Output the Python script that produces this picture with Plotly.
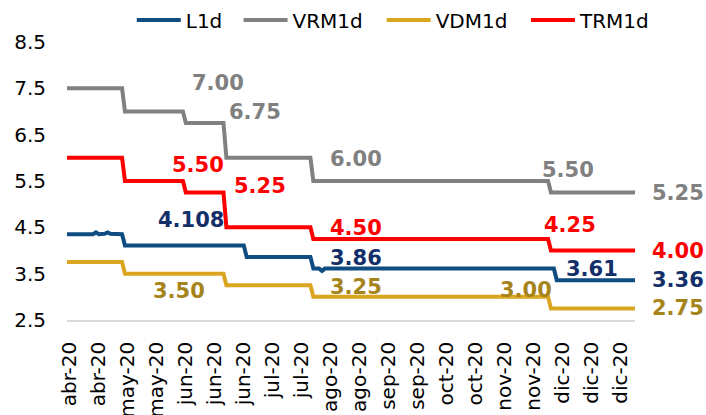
import plotly.graph_objects as go

# ---- data (x = business-day index from start of April 2020) ----
tick_pos = [1, 11, 21, 31, 41, 51, 61, 71, 81, 91, 101, 111, 121, 131, 141, 151, 161, 171, 181, 191]
tick_labels = ["abr-20", "abr-20", "may-20", "may-20", "jun-20", "jun-20", "jun-20",
               "jul-20", "jul-20", "ago-20", "ago-20", "sep-20", "sep-20", "oct-20",
               "oct-20", "nov-20", "nov-20", "dic-20", "dic-20", "dic-20"]

l1d_x = [0, 9, 10, 11, 13, 14, 15, 16, 19, 20, 61, 62, 84, 85, 87, 88, 89, 168, 169, 196]
l1d_y = [4.35, 4.35, 4.39, 4.35, 4.36, 4.39, 4.36, 4.36, 4.35, 4.108, 4.108, 3.86, 3.86,
         3.61, 3.61, 3.56, 3.61, 3.61, 3.36, 3.36]

vrm_x = [0, 19, 20, 40, 41, 54, 55, 84, 85, 166, 167, 196]
vrm_y = [7.5, 7.5, 7.0, 7.0, 6.75, 6.75, 6.0, 6.0, 5.5, 5.5, 5.25, 5.25]

vdm_x = [0, 19, 20, 54, 55, 84, 85, 166, 167, 196]
vdm_y = [3.75, 3.75, 3.5, 3.5, 3.25, 3.25, 3.0, 3.0, 2.75, 2.75]

trm_x = [0, 19, 20, 40, 41, 54, 55, 84, 85, 166, 167, 196]
trm_y = [6.0, 6.0, 5.5, 5.5, 5.25, 5.25, 4.5, 4.5, 4.25, 4.25, 4.0, 4.0]

# value labels: (text, x, y, colour)
labels_in = [
    ("7.00", 52.1, 7.61, "#808080"),
    ("6.75", 64.9, 7.00, "#808080"),
    ("6.00", 99.7, 5.97, "#808080"),
    ("5.50", 172.9, 5.73, "#808080"),
    ("5.50", 45.2, 5.85, "#FF0000"),
    ("5.25", 66.6, 5.40, "#FF0000"),
    ("4.50", 99.7, 4.48, "#FF0000"),
    ("4.25", 173.6, 4.54, "#FF0000"),
    ("4.108", 42.8, 4.66, "#132F6A"),
    ("3.86", 99.7, 3.83, "#132F6A"),
    ("3.61", 181.2, 3.61, "#132F6A"),
    ("3.50", 38.5, 3.13, "#A6841C"),
    ("3.25", 99.7, 3.22, "#A6841C"),
    ("3.00", 158.4, 3.15, "#A6841C"),
]
end_labels = [
    ("5.25", vrm_x[-1], vrm_y[-1], "#808080"),
    ("4.00", trm_x[-1], trm_y[-1], "#FF0000"),
    ("3.36", l1d_x[-1], l1d_y[-1], "#132F6A"),
    ("2.75", vdm_x[-1], vdm_y[-1], "#A6841C"),
]

FONT = "Verdana, DejaVu Sans, sans-serif"

fig = go.Figure()
series = [
    ("L1d", l1d_x, l1d_y, "#0F4C81", "legend"),
    ("VRM1d", vrm_x, vrm_y, "#808080", "legend2"),
    ("VDM1d", vdm_x, vdm_y, "#DAA520", "legend3"),
    ("TRM1d", trm_x, trm_y, "#FF0000", "legend4"),
]
for name, xs, ys, col, lg in series:
    fig.add_trace(go.Scatter(x=xs, y=ys, name=name, mode="lines",
                             line=dict(color=col, width=4), legend=lg,
                             hoverinfo="skip"))

for txt, x, y, col in labels_in:
    fig.add_annotation(x=x, y=y, xref="x", yref="y", text=txt, showarrow=False,
                       xanchor="center", yanchor="middle",
                       font=dict(family=FONT, size=21, color=col, weight="bold"))
for txt, x, y, col in end_labels:
    fig.add_annotation(x=x, y=y, xref="x", yref="y", text=txt, showarrow=False,
                       xanchor="center", yanchor="middle", xshift=43,
                       font=dict(family=FONT, size=21, color=col, weight="bold"))


def leg(xpos):
    return dict(orientation="h", x=xpos, xanchor="left", y=1.079, yanchor="middle",
                font=dict(family=FONT, size=20, color="#000000"),
                bgcolor="rgba(0,0,0,0)", itemwidth=44, borderwidth=0)


fig.update_layout(
    width=706, height=415,
    margin=dict(l=67, r=71, t=42, b=95, autoexpand=False),
    paper_bgcolor="white", plot_bgcolor="white",
    font=dict(family=FONT, size=20, color="#000000"),
    showlegend=True,
    legend=leg(0.114), legend2=leg(0.302), legend3=leg(0.554), legend4=leg(0.808),
    xaxis=dict(range=[0, 196], tickmode="array", tickvals=tick_pos, ticktext=tick_labels,
               tickangle=-90, showgrid=False, zeroline=False,
               showline=True, linecolor="#D9D9D9", linewidth=1.5,
               ticks="", ticklabelstandoff=12,
               tickfont=dict(family=FONT, size=20, color="#000000")),
    yaxis=dict(range=[2.5, 8.5], tickmode="linear", tick0=2.5, dtick=1,
               showgrid=False, zeroline=False, showline=False, ticks="",
               ticklabelstandoff=20,
               tickfont=dict(family=FONT, size=20, color="#000000")),
)

fig.write_html("out.html", config={"displayModeBar": False},
               post_script="document.body.style.margin='0';document.body.style.overflow='hidden';")
